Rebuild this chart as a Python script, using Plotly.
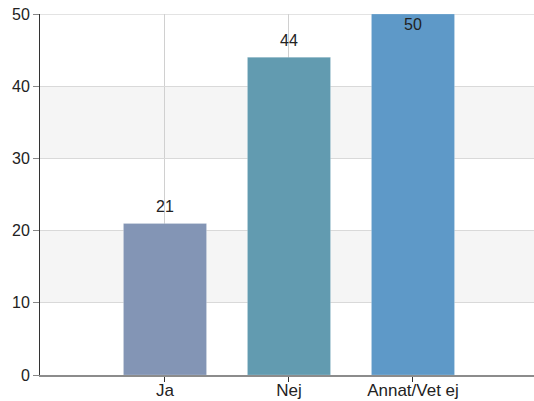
import plotly.graph_objects as go

categories = ["Ja", "Nej", "Annat/Vet ej"]
values = [21, 44, 50]
bar_colors = ["#8395b5", "#629bb0", "#5e99c8"]
y_ticks = [0, 10, 20, 30, 40, 50]
bands = [(10, 20), (30, 40)]

y_max = 50
FONT = "Liberation Sans, Arial, sans-serif"

fig = go.Figure()
fig.add_trace(go.Bar(
    x=categories, y=values,
    marker=dict(color=bar_colors, line=dict(color="rgba(255,255,255,0.2)", width=1)),
    width=0.67,
    hoverinfo="x+y",
))

# value labels: above the bar, or just inside the top when the bar fills the axis
for c, v in zip(categories, values):
    inside = v >= y_max - 2
    fig.add_annotation(
        x=c, y=v, xref="x", yref="y", text=str(v), showarrow=False,
        yanchor="top" if inside else "bottom",
        yshift=0 if inside else 6,
        font=dict(family=FONT, size=16, color="#222222"),
    )

for lo, hi in bands:
    fig.add_shape(type="rect", xref="paper", yref="y", x0=0, x1=1, y0=lo, y1=hi,
                  fillcolor="#f5f5f5", line=dict(width=0), layer="below")
fig.add_shape(type="line", xref="paper", yref="y", x0=0, x1=1, y0=y_max, y1=y_max,
              line=dict(color="#e3e3e3", width=2), layer="below")

fig.update_layout(
    width=534, height=401,
    margin=dict(l=40, r=0, t=14, b=26, autoexpand=False),
    paper_bgcolor="white", plot_bgcolor="white",
    font=dict(family=FONT, size=16, color="#222222"),
    showlegend=False,
    xaxis=dict(
        type="category", range=[-1.008, 2.976], automargin=False,
        showgrid=True, gridcolor="#d0d0d0", gridwidth=1,
        showline=True, linecolor="#8c8c8c", linewidth=2,
        ticks="outside", ticklen=5, tickcolor="#333333",
        tickfont=dict(size=17),
        zeroline=False,
    ),
    yaxis=dict(
        range=[0, y_max], tickvals=y_ticks, automargin=False,
        showgrid=True, gridcolor="#d9d9d9", gridwidth=1,
        showline=True, linecolor="#333333", linewidth=1,
        ticks="outside", ticklen=6, tickcolor="#888888",
        tickfont=dict(size=16),
        zeroline=False,
    ),
)
try:
    fig.update_xaxes(ticklabelstandoff=-6)
except Exception:
    fig.update_xaxes(ticklen=2)

fig.write_html(
    "out.html",
    config={"displayModeBar": False},
    post_script="document.body.style.margin='0';document.body.style.overflow='hidden';",
)
